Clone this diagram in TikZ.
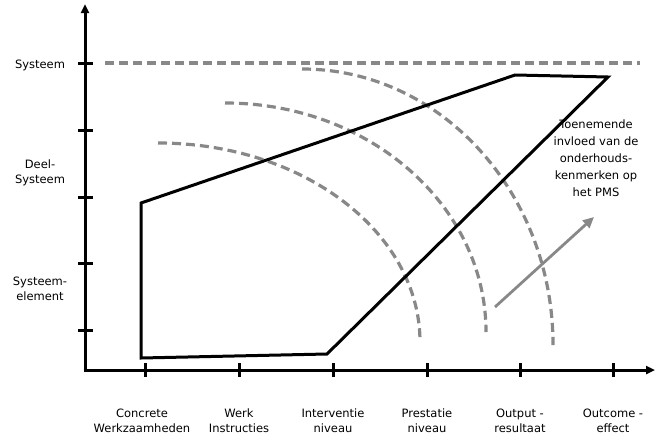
\documentclass[tikz,border=0pt]{standalone}
\usepackage{fontspec}
\setmainfont{DejaVu Sans}
\usetikzlibrary{arrows.meta}
\definecolor{dashgray}{HTML}{888888}
\begin{document}
\begin{tikzpicture}[x=1pt,y=1pt,
  axis/.style={line width=3pt},
  tick/.style={line width=3pt},
  outline/.style={line width=3pt, line join=miter},
  level/.style={dashgray, line width=3.2pt, dash pattern=on 9pt off 5pt},
  lbl/.style={font=\fontsize{11.5}{15}\selectfont, align=center, inner sep=0pt},
  trend/.style={dashgray, line width=2.8pt, -{Triangle[length=11pt,width=10pt]}}]
\useasboundingbox (0,0) rectangle (655,-442);

% axes
\coordinate (o) at (85,-370);
\coordinate (ytop) at (85,-4);
\coordinate (xend) at (655,-370);
\draw[axis, -{Triangle[length=9pt,width=8pt]}] (83.5,-370) -- (xend);
\draw[axis, -{Triangle[length=9pt,width=8pt]}] (85,-371.5) -- (ytop);

% ticks on the vertical axis
\foreach \y in {63,130,197,263,330}
  \draw[tick] (78,-\y) -- (93,-\y);
% ticks on the horizontal axis
\foreach \x in {145,239,333,427,520,613}
  \draw[tick] (\x,-363) -- (\x,-377);

% top level reference line
\coordinate (refL) at (105,-63);
\coordinate (refR) at (640,-63);
\draw[level] (refL) -- (refR);

% concentric influence arcs
\draw[level] (158,-143) arc[start angle=90, end angle=0, x radius=262, y radius=199];
\draw[level] (225,-103) arc[start angle=90, end angle=0, x radius=261, y radius=229];
\draw[level] (302,-69) arc[start angle=90, end angle=0, x radius=251, y radius=276];

% scope polygon
\coordinate (p1) at (141,-358);
\coordinate (p2) at (141,-203);
\coordinate (p3) at (515,-75);
\coordinate (p4) at (608,-77);
\coordinate (p5) at (327,-354);
\draw[outline] (p1) -- (p2) -- (p3) -- (p4) -- (p5) -- cycle;

% increasing influence arrow
\coordinate (ta) at (495,-307);
\coordinate (tb) at (594,-217);
\draw[trend] (ta) -- (tb);

% vertical axis labels
\node[lbl] (ysys) at (40,-65) {Systeem};
\node[lbl] (ydeel) at (40,-173) {Deel-\\Systeem};
\node[lbl] (yel) at (40,-289) {Systeem-\\element};

% horizontal axis labels
\node[lbl] (x1) at (142,-421) {Concrete\\Werkzaamheden};
\node[lbl] (x2) at (239,-421) {Werk\\Instructies};
\node[lbl] (x3) at (333,-421) {Interventie\\niveau};
\node[lbl] (x4) at (427,-421) {Prestatie\\niveau};
\node[lbl] (x5) at (520,-421) {Output -\\resultaat};
\node[lbl] (x6) at (613,-421) {Outcome -\\effect};

% annotation
\node[lbl, font=\fontsize{11.5}{17}\selectfont] (note) at (596,-158)
  {Toenemende\\invloed van de\\onderhouds-\\kenmerken op\\het PMS};
\end{tikzpicture}
\end{document}
